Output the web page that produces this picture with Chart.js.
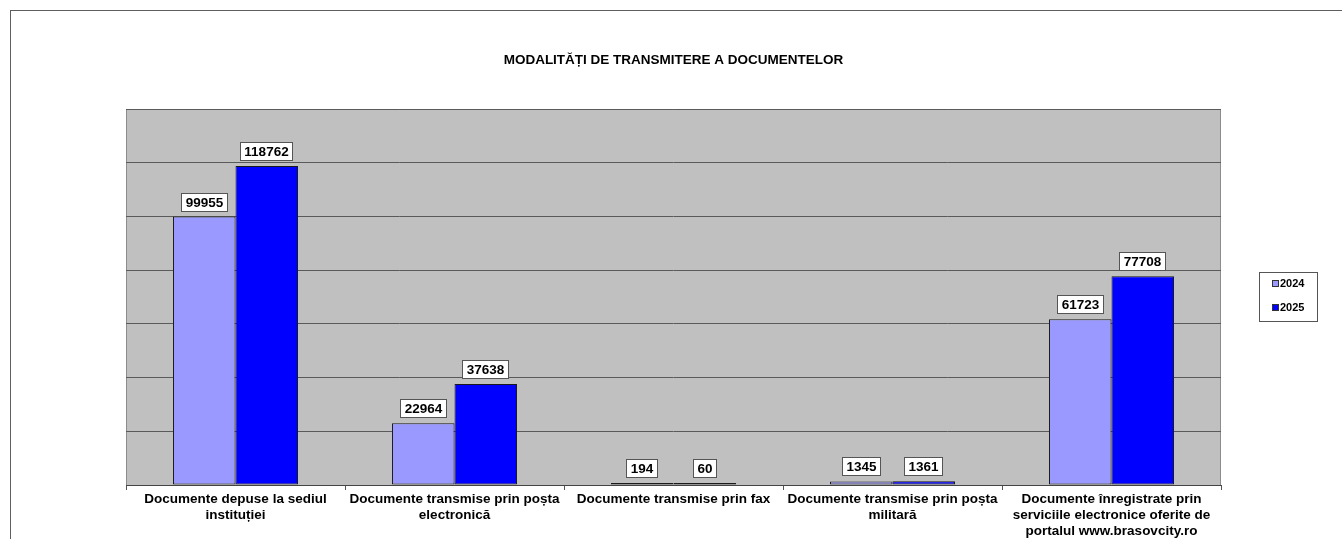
<!DOCTYPE html>
<html>
<head>
<meta charset="utf-8">
<script src="https://cdn.jsdelivr.net/npm/chart.js@4"></script>
<style>
    html, body { margin: 0; padding: 0; background: #fff; }
    #wrap { position: relative; width: 1342px; height: 539px; overflow: hidden; }
    #frame { position: absolute; left: 10px; top: 10px; width: 1400px; height: 600px;
             border-top: 1px solid #5e5e5e; border-left: 1px solid #5e5e5e; }
    canvas { position: absolute; left: 0; top: 0; }
</style>
</head>
<body>
<div id="wrap">
    <div id="frame"></div>
    <canvas id="chart" width="1342" height="539"></canvas>
</div>
<script>
// datele graficului
const categories = [
    ['Documente depuse la sediul', 'instituției'],
    ['Documente transmise prin poșta', 'electronică'],
    ['Documente transmise prin fax'],
    ['Documente transmise prin poșta', 'militară'],
    ['Documente înregistrate prin', 'serviciile electronice oferite de', 'portalul www.brasovcity.ro']
];
const seriesNames = ['2024', '2025'];
const values2024 = [99955, 22964, 194, 1345, 61723];
const values2025 = [118762, 37638, 60, 1361, 77708];
const yTicks = [0, 20000, 40000, 60000, 80000, 100000, 120000, 140000];

const colors = ['#9999FF', '#0000FF'];
const FONT = 'Arial, "Liberation Sans", sans-serif';

// fundal gri + chenar zona de desen
const plotBg = {
    id: 'plotBg',
    beforeDraw(chart) {
        const { ctx, chartArea: a } = chart;
        ctx.save();
        ctx.fillStyle = '#C0C0C0';
        ctx.fillRect(a.left, a.top, a.right - a.left, a.bottom - a.top);
        ctx.strokeStyle = '#8c8c8c';
        ctx.lineWidth = 1;
        ctx.strokeRect(Math.round(a.left) + 0.5, Math.round(a.top) + 0.5,
            Math.round(a.right - a.left) - 1, Math.round(a.bottom - a.top));
        ctx.restore();
    }
};

// etichete cu valori in casete albe
const valueBoxes = {
    id: 'valueBoxes',
    afterDatasetsDraw(chart) {
        const { ctx } = chart;
        ctx.save();
        ctx.font = 'bold 13.5px ' + FONT;
        ctx.textAlign = 'center';
        ctx.textBaseline = 'middle';
        chart.data.datasets.forEach((ds, i) => {
            chart.getDatasetMeta(i).data.forEach((bar, j) => {
                const txt = String(ds.data[j]);
                const w = Math.round(ctx.measureText(txt).width) + 9;
                const h = 19;
                const x = Math.round(bar.x - w / 2);
                const y = Math.round(bar.y - 5 - h);
                ctx.fillStyle = '#fff';
                ctx.fillRect(x, y, w, h);
                ctx.strokeStyle = '#555';
                ctx.lineWidth = 1;
                ctx.strokeRect(x + 0.5, y + 0.5, w - 1, h - 1);
                ctx.fillStyle = '#000';
                ctx.fillText(txt, x + w / 2, y + h / 2 + 1);
            });
        });
        ctx.restore();
    }
};

// legenda in dreapta
const boxLegend = {
    id: 'boxLegend',
    afterDraw(chart) {
        const { ctx } = chart;
        const bx = 1259, by = 272, bw = 58, bh = 49;
        ctx.save();
        ctx.fillStyle = '#fff';
        ctx.fillRect(bx, by, bw, bh);
        ctx.strokeStyle = '#555';
        ctx.lineWidth = 1;
        ctx.strokeRect(bx + 0.5, by + 0.5, bw, bh);
        ctx.font = 'bold 11px ' + FONT;
        ctx.textBaseline = 'middle';
        chart.data.datasets.forEach((ds, i) => {
            const cy = by + 11 + i * 24;
            ctx.fillStyle = ds.backgroundColor;
            ctx.fillRect(bx + 13, cy - 3, 7, 7);
            ctx.strokeStyle = '#333';
            ctx.strokeRect(bx + 13.5, cy - 2.5, 6, 6);
            ctx.fillStyle = '#000';
            ctx.fillText(ds.label, bx + 21, cy + 1);
        });
        ctx.restore();
    }
};

const barStyle = { borderColor: '#1a1a1a', borderWidth: 1, borderSkipped: false, minBarLength: 2 };

new Chart(document.getElementById('chart'), {
    type: 'bar',
    data: {
        labels: categories,
        datasets: [
            { label: seriesNames[0], data: values2024, backgroundColor: colors[0], ...barStyle },
            { label: seriesNames[1], data: values2025, backgroundColor: colors[1], ...barStyle }
        ]
    },
    options: {
        responsive: false,
        animation: false,
        layout: { padding: { left: 126, right: 121, top: 0, bottom: 0 } },
        datasets: {
            bar: {
                categoryPercentage: 0.571,
                barPercentage: 1
            }
        },
        plugins: {
            legend: { display: false },
            tooltip: { enabled: false },
            title: {
                display: true,
                text: 'MODALITĂȚI DE TRANSMITERE A DOCUMENTELOR',
                color: '#000',
                font: { family: FONT, size: 13.5, weight: 'bold', lineHeight: 1.2 },
                padding: { top: 52, bottom: 40.8 }
            }
        },
        scales: {
            x: {
                grid: { offset: true, drawOnChartArea: false, tickLength: 5, color: '#555' },
                border: { color: '#444' },
                ticks: {
                    color: '#000',
                    maxRotation: 0,
                    autoSkip: false,
                    padding: 1,
                    font: { family: FONT, size: 13.5, weight: 'bold', lineHeight: 1.18 }
                },
                afterFit(scale) { scale.height = 54; }
            },
            y: {
                min: yTicks[0],
                max: yTicks[yTicks.length - 1],
                afterBuildTicks(scale) { scale.ticks = yTicks.map(v => ({ value: v })); },
                ticks: { display: false },
                grid: { color: '#5a5a5a', drawTicks: false },
                border: { display: false },
                afterFit(scale) { scale.width = 0; }
            }
        }
    },
    plugins: [plotBg, valueBoxes, boxLegend]
});
</script>
</body>
</html>
